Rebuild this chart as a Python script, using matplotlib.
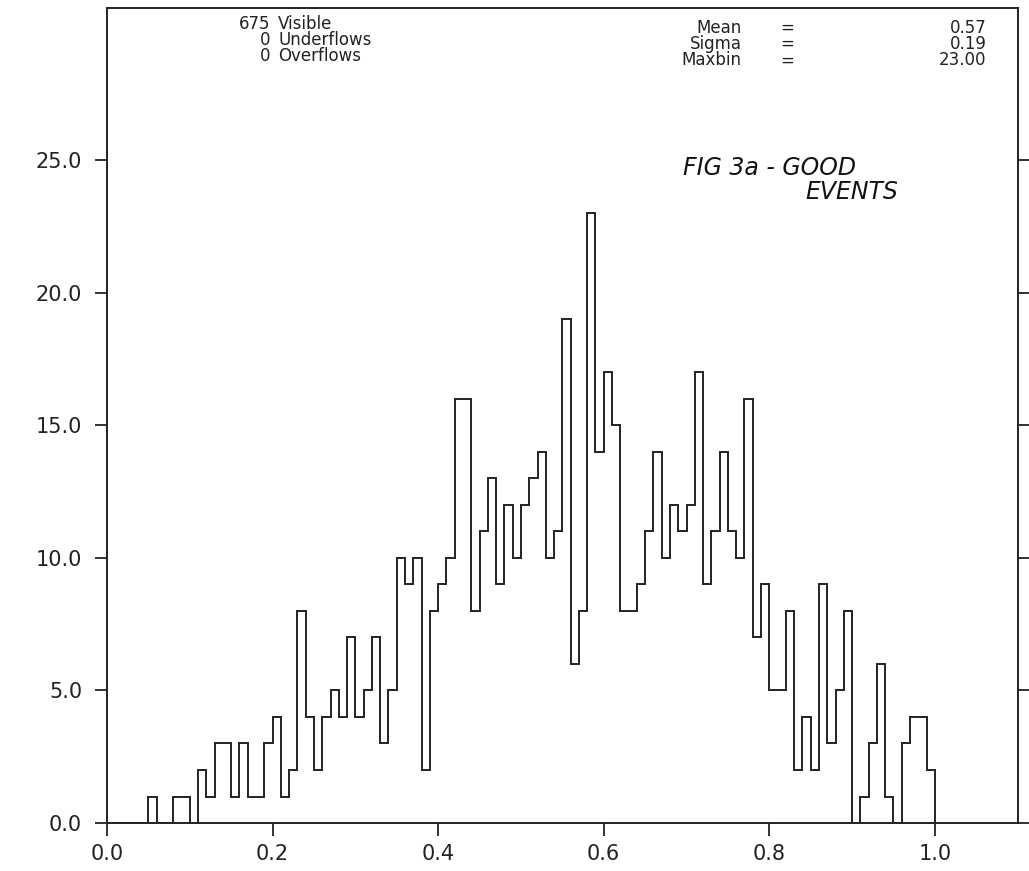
import numpy as np
import matplotlib
matplotlib.use("Agg")
import matplotlib.pyplot as plt

# histogram: 100 bins of width 0.01 from 0.0 to 1.0 (counts)
bin_start = 0.0
bin_width = 0.01
counts = [
    0, 0, 0, 0, 0, 1, 0, 0, 1, 1,          # 0.00 - 0.09
    0, 2, 1, 3, 3, 1, 3, 1, 1, 3,          # 0.10 - 0.19
    4, 1, 2, 8, 4, 2, 4, 5, 4, 7,          # 0.20 - 0.29
    4, 5, 7, 3, 5, 10, 9, 10, 2, 8,        # 0.30 - 0.39
    9, 10, 16, 16, 8, 11, 13, 9, 12, 10,   # 0.40 - 0.49
    12, 13, 14, 10, 11, 19, 6, 8, 23, 14,  # 0.50 - 0.59
    17, 15, 8, 8, 9, 11, 14, 10, 12, 11,   # 0.60 - 0.69
    12, 17, 9, 11, 14, 11, 10, 16, 7, 9,   # 0.70 - 0.79
    5, 5, 8, 2, 4, 2, 9, 3, 5, 8,          # 0.80 - 0.89
    0, 1, 3, 6, 1, 0, 3, 4, 4, 2,          # 0.90 - 0.99
]

x_ticks = [0.0, 0.2, 0.4, 0.6, 0.8, 1.0]
y_ticks = [0.0, 5.0, 10.0, 15.0, 20.0, 25.0]

stat_counts = ["675", "0", "0"]
stat_names = ["Visible", "Underflows", "Overflows"]
stat_keys = ["Mean", "Sigma", "Maxbin"]
stat_vals = ["0.57", "0.19", "23.00"]

note_line1 = "FIG 3a - GOOD"
note_line2 = "EVENTS"

INK = "#222222"

fig = plt.figure(figsize=(10.29, 8.71), dpi=100)
ax = fig.add_axes([0.104, 0.0551, 0.885, 0.9357])

edges = bin_start + bin_width * np.arange(len(counts) + 1)
ax.stairs(counts, edges, color=INK, linewidth=1.4, baseline=0)

ax.set_xlim(0.0, 1.1)
ax.set_ylim(0.0, 30.75)

for side in ("left", "right", "top", "bottom"):
    ax.spines[side].set_linewidth(1.4)
    ax.spines[side].set_color(INK)

ax.set_xticks(x_ticks)
ax.set_xticklabels([f"{v:.1f}" for v in x_ticks])
ax.set_yticks(y_ticks)
ax.set_yticklabels([f"{v:.1f}" for v in y_ticks])
ax.tick_params(axis="both", direction="out", length=9, width=1.3, color=INK,
               labelsize=15, labelcolor=INK)
ax.tick_params(axis="y", right=True, labelright=False, pad=9)
ax.tick_params(axis="x", pad=6)

# stats block at the top of the frame, one text per column
fs = 12
ls = 0.88
left_y = 0.9607
right_y = 0.9558
common = dict(transform=ax.transAxes, va="center", fontsize=fs, color=INK,
              linespacing=ls)
ax.text(0.179, left_y, "\n".join(stat_counts), ha="right", multialignment="right", **common)
ax.text(0.188, left_y, "\n".join(stat_names), ha="left", multialignment="left", **common)
ax.text(0.697, right_y, "\n".join(stat_keys), ha="right", multialignment="right", **common)
ax.text(0.747, right_y, "\n".join(["="] * 3), ha="center", multialignment="center", **common)
ax.text(0.966, right_y, "\n".join(stat_vals), ha="right", multialignment="right", **common)

# handwritten note
ax.text(0.696, 24.7, note_line1, ha="left", va="center", fontsize=17,
        style="italic", color="#111111")
ax.text(0.844, 23.8, note_line2, ha="left", va="center", fontsize=17,
        style="italic", color="#111111")

fig.savefig("out.png", dpi=100, facecolor="white")
